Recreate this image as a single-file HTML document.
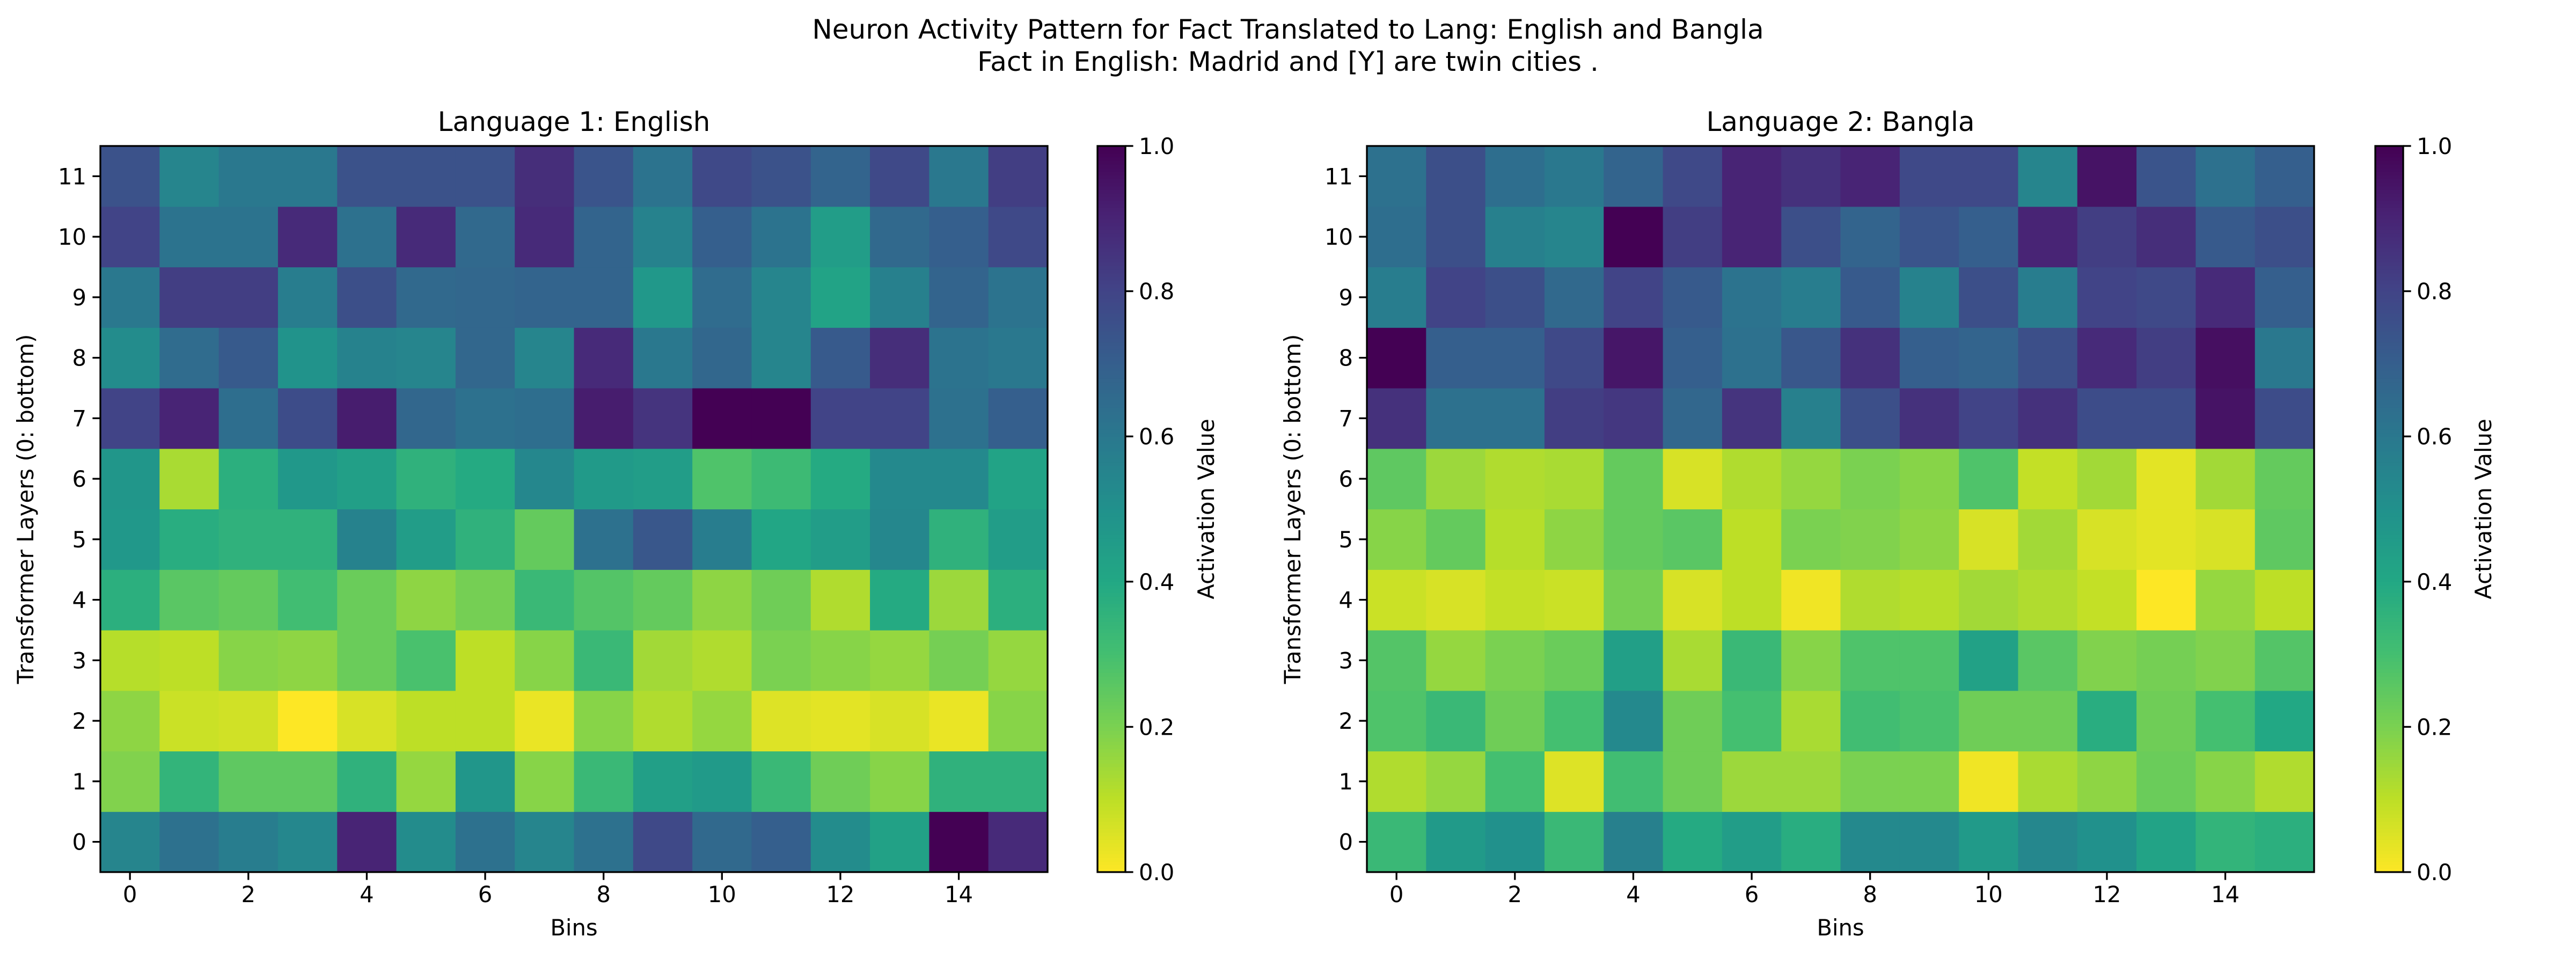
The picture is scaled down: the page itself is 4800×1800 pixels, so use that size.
<!DOCTYPE html>
<html><head><meta charset="utf-8"><style>
html,body{margin:0;padding:0;background:#fff}
svg{display:block}
text{font-family:"DejaVu Sans","Liberation Sans",sans-serif;fill:#000}
</style></head><body>
<svg id="c" width="4800" height="1800" viewBox="0 0 4800 1800" xmlns="http://www.w3.org/2000/svg">
<text x="2400" y="72" font-size="50" text-anchor="middle">Neuron Activity Pattern for Fact Translated to Lang: English and Bangla</text>
<text x="2400" y="132" font-size="50" text-anchor="middle">Fact in English: Madrid and [Y] are twin cities .</text>
</svg>
<script>
const bins = [0,1,2,3,4,5,6,7,8,9,10,11,12,13,14,15];
const layers = [0,1,2,3,4,5,6,7,8,9,10,11];
const xTickLabels = ["0","2","4","6","8","10","12","14"];
const cbTickLabels = ["0.0","0.2","0.4","0.6","0.8","1.0"];
// rows listed bottom (layer 0) to top (layer 11)
const englishValues = [
[0.55,0.63,0.58,0.54,0.9,0.52,0.63,0.55,0.63,0.78,0.66,0.7,0.52,0.43,1.0,0.88],
[0.19,0.35,0.25,0.25,0.36,0.16,0.48,0.18,0.33,0.44,0.46,0.33,0.22,0.18,0.36,0.36],
[0.17,0.08,0.07,0.0,0.06,0.1,0.1,0.03,0.18,0.12,0.16,0.05,0.04,0.06,0.03,0.18],
[0.11,0.1,0.18,0.17,0.23,0.29,0.1,0.18,0.33,0.14,0.12,0.2,0.18,0.16,0.21,0.16],
[0.37,0.26,0.24,0.31,0.23,0.17,0.21,0.33,0.27,0.24,0.17,0.22,0.12,0.39,0.15,0.37],
[0.47,0.38,0.36,0.36,0.56,0.45,0.36,0.24,0.63,0.73,0.58,0.41,0.45,0.54,0.36,0.45],
[0.48,0.13,0.37,0.47,0.44,0.36,0.39,0.54,0.46,0.45,0.28,0.32,0.39,0.53,0.53,0.42],
[0.8,0.9,0.64,0.77,0.92,0.67,0.63,0.64,0.92,0.85,1.0,1.0,0.8,0.8,0.63,0.7],
[0.52,0.65,0.72,0.49,0.56,0.55,0.67,0.55,0.88,0.6,0.67,0.55,0.72,0.87,0.62,0.6],
[0.6,0.82,0.82,0.58,0.76,0.66,0.67,0.68,0.68,0.47,0.65,0.55,0.42,0.57,0.68,0.62],
[0.8,0.62,0.62,0.88,0.63,0.88,0.66,0.88,0.68,0.56,0.7,0.62,0.45,0.66,0.7,0.78],
[0.75,0.55,0.6,0.6,0.75,0.75,0.75,0.87,0.74,0.62,0.78,0.75,0.68,0.78,0.6,0.82]
];
const banglaValues = [
[0.33,0.46,0.5,0.33,0.57,0.39,0.45,0.38,0.53,0.53,0.46,0.54,0.5,0.42,0.35,0.37],
[0.12,0.16,0.3,0.05,0.31,0.22,0.15,0.15,0.2,0.2,0.02,0.13,0.17,0.23,0.18,0.12],
[0.28,0.33,0.22,0.3,0.53,0.22,0.3,0.13,0.31,0.29,0.22,0.22,0.38,0.22,0.3,0.4],
[0.27,0.16,0.2,0.23,0.44,0.13,0.33,0.18,0.28,0.28,0.43,0.26,0.19,0.21,0.19,0.27],
[0.08,0.06,0.09,0.08,0.21,0.06,0.1,0.02,0.12,0.11,0.14,0.12,0.09,0.0,0.16,0.1],
[0.18,0.24,0.11,0.17,0.24,0.26,0.1,0.2,0.19,0.17,0.06,0.14,0.06,0.04,0.06,0.25],
[0.25,0.15,0.12,0.13,0.24,0.06,0.12,0.16,0.2,0.18,0.28,0.09,0.14,0.04,0.14,0.24],
[0.86,0.63,0.63,0.82,0.84,0.67,0.85,0.57,0.76,0.86,0.8,0.86,0.77,0.77,0.95,0.77],
[1.0,0.7,0.7,0.78,0.94,0.7,0.63,0.73,0.86,0.7,0.68,0.76,0.88,0.82,0.96,0.6],
[0.58,0.8,0.76,0.66,0.8,0.72,0.62,0.58,0.72,0.56,0.76,0.58,0.8,0.78,0.88,0.7],
[0.64,0.76,0.57,0.55,1.0,0.82,0.9,0.76,0.68,0.74,0.7,0.9,0.82,0.87,0.72,0.76],
[0.63,0.76,0.64,0.6,0.68,0.78,0.9,0.86,0.9,0.78,0.78,0.55,0.95,0.74,0.63,0.7]
];
const VIR=["#440154","#482475","#414487","#355f8d","#2a788e","#21918c","#22a884","#44bf70","#7ad151","#bddf26","#fde725"];
function hex(h){return [1,3,5].map(i=>parseInt(h.substr(i,2),16));}
function cmap(v){
  let t=Math.max(0,Math.min(1,1-v))*10, i=Math.min(9,Math.floor(t)), f=t-i;
  const a=hex(VIR[i]),b=hex(VIR[i+1]);
  return "rgb("+a.map((c,k)=>Math.round(c+(b[k]-c)*f)).join(",")+")";
}
const NS="http://www.w3.org/2000/svg", svg=document.getElementById('c');
function el(tag,attrs,parent){const e=document.createElementNS(NS,tag);for(const k in attrs)e.setAttribute(k,attrs[k]);(parent||svg).appendChild(e);return e;}
function txt(s,attrs,parent){const e=el('text',attrs,parent);e.textContent=s;return e;}

function panel(id,title,values,L,R,T,B,cbL,cbR,ylabX,cbLabX){
  const g=el('g',{});
  
  
  const cw=(R-L)/bins.length, ch=(B-T)/layers.length;
  const xs=b=>L+(b+0.5)*cw, ys=l=>B-(l+0.5)*ch;
  layers.forEach((l,ri)=>bins.forEach((b,ci)=>{
    const r=el('rect',{x:xs(b)-cw/2,y:ys(l)-ch/2,width:cw+0.6,height:ch+0.6,fill:cmap(values[ri][ci])},g);
    
    
  }));
  const fr=el('rect',{x:L,y:T,width:R-L,height:B-T,fill:'none',stroke:'#000','stroke-width':3.3},g);
  
  
  xTickLabels.forEach(s=>{const x=xs(+s);
    el('line',{x1:x,x2:x,y1:B,y2:B+14.6,stroke:'#000','stroke-width':3.3},g);
    const t=txt(s,{x:x,y:B+56,'font-size':41.7,'text-anchor':'middle'},g);
    
    });
  layers.forEach(l=>{const y=ys(l);
    el('line',{x1:L-14.6,x2:L,y1:y,y2:y,stroke:'#000','stroke-width':3.3},g);
    const t=txt(String(l),{x:L-26,y:y+15,'font-size':41.7,'text-anchor':'end'},g);
    
    });
  const tt=txt(title,{x:(L+R)/2,y:T-28,'font-size':50,'text-anchor':'middle'},g);
  
  
  const xl=txt('Bins',{x:(L+R)/2,y:B+118,'font-size':41.7,'text-anchor':'middle'},g);
  
  
  const yl=txt('Transformer Layers (0: bottom)',{x:0,y:0,'font-size':41.7,'text-anchor':'middle',transform:'translate('+ylabX+','+(T+B)/2+') rotate(-90)'},g);
  
  
  const cb=el('g',{},g);
  
  
  const N=200;
  for(let i=0;i<N;i++){const v0=i/N;
    el('rect',{x:cbL,y:B-(i+1)*(B-T)/N,width:cbR-cbL,height:(B-T)/N+0.8,fill:cmap(v0+0.5/N)},cb);}
  el('rect',{x:cbL,y:T,width:cbR-cbL,height:B-T,fill:'none',stroke:'#000','stroke-width':3.3},cb);
  cbTickLabels.forEach(s=>{const y=B-(+s)*(B-T);
    el('line',{x1:cbR,x2:cbR+14.6,y1:y,y2:y,stroke:'#000','stroke-width':3.3},cb);
    const t=txt(s,{x:cbR+25,y:y+15,'font-size':41.7},cb);
    
    });
  const cl=txt('Activation Value',{x:0,y:0,'font-size':41.7,'text-anchor':'middle',transform:'translate('+cbLabX+','+(T+B)/2+') rotate(-90)'},cb);
  
  
}
panel('english','Language 1: English',englishValues,187,1952,272,1625,2045,2097,62,2262);
panel('bangla','Language 2: Bangla',banglaValues,2547,4312,272,1625,4426,4478,2423,4642);
</script>
</body></html>
